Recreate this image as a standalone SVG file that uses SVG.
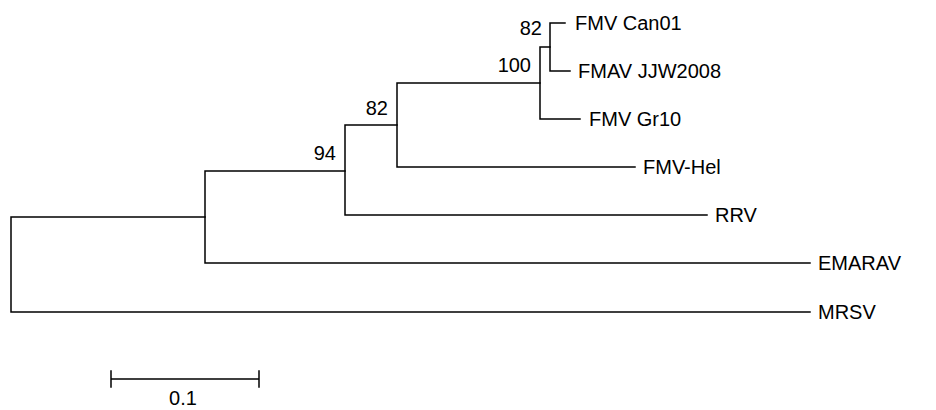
<svg xmlns="http://www.w3.org/2000/svg" width="936" height="410" viewBox="0 0 936 410">
<style>
.b{fill:none;stroke:#000;stroke-width:1.5;stroke-linecap:square}
.t{font-family:"Liberation Sans",Arial,sans-serif;font-size:20px;fill:#000}
.s{font-family:"Liberation Sans",Arial,sans-serif;font-size:20px;fill:#000;text-anchor:end}
</style>
<rect width="936" height="410" fill="#fff"/>
<g id="connectors">
<path class="b" d="M11,217 V312 M11,217 H205 M11,312 H810"/>
<path class="b" d="M205,171 V263 M205,171 H345 M205,263 H810"/>
<path class="b" d="M345,125 V215 M345,125 H397 M345,215 H707"/>
<path class="b" d="M397,83 V167 M397,83 H540 M397,167 H635"/>
<path class="b" d="M540,47 V119 M540,47 H550 M540,119 H580"/>
<path class="b" d="M550,23 V71 M550,23 H565 M550,71 H570"/>
</g>
<g id="FMV_Can01"><text class="t" x="575" y="30">FMV Can01</text></g>
<g id="FMAV_JJW2008"><text class="t" x="578" y="78">FMAV JJW2008</text></g>
<g id="FMV_Gr10"><text class="t" x="589" y="126">FMV Gr10</text></g>
<g id="FMV-Hel"><text class="t" x="643" y="174">FMV-Hel</text></g>
<g id="RRV"><text class="t" x="715" y="222">RRV</text></g>
<g id="EMARAV"><text class="t" x="818" y="270">EMARAV</text></g>
<g id="MRSV"><text class="t" x="818" y="319">MRSV</text></g>
<g id="bootstrap">
<text class="s" x="542" y="35">82</text>
<text class="s" x="531" y="72">100</text>
<text class="s" x="388" y="115">82</text>
<text class="s" x="336" y="160">94</text>
</g>
<g id="scale">
<path class="b" d="M111,379 H259 M111,371 V387 M259,371 V387"/>
<text class="t" x="183" y="405" text-anchor="middle">0.1</text>
</g>
</svg>
